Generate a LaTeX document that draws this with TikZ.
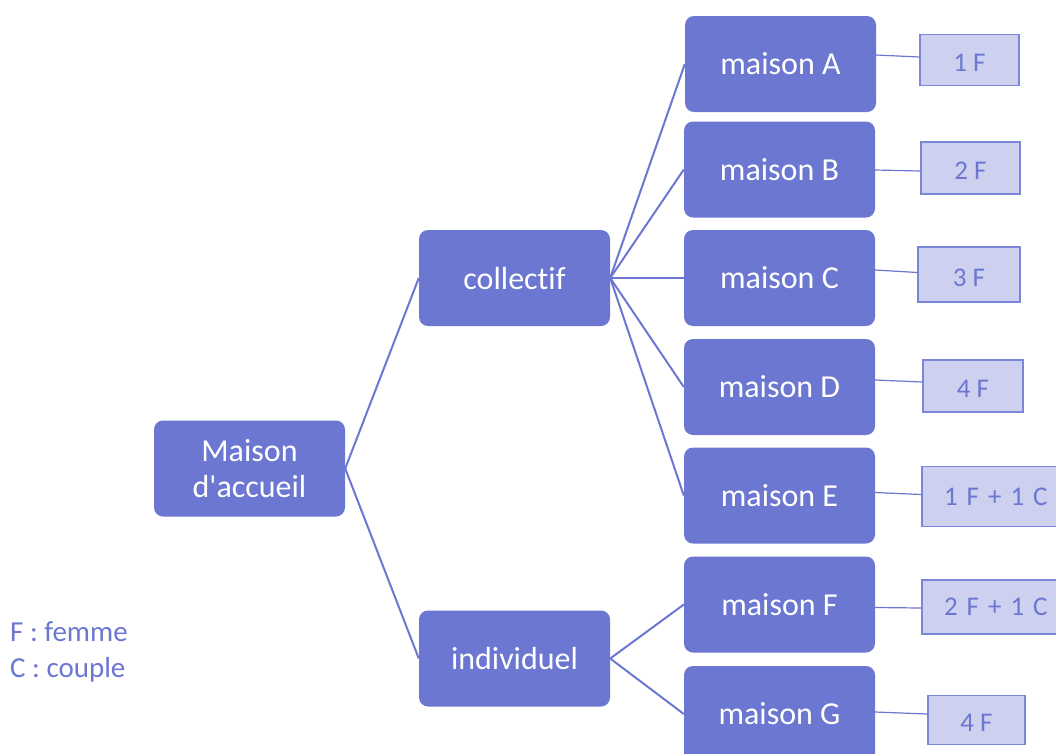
\documentclass[tikz,border=0pt]{standalone}
\usepackage{fontspec}
\setmainfont{Carlito}[Ligatures=NoCommon]
\definecolor{boxblue}{HTML}{6B77D0}
\definecolor{paleblue}{HTML}{CDD1EF}
\definecolor{edgeblue}{HTML}{7C86D8}
\newcommand{\cnt}[1]{\raisebox{-3pt}[\height][0pt]{#1}}
\begin{document}
\begin{tikzpicture}[x=1pt,y=-1pt,
  house/.style={draw=none, fill=boxblue, rounded corners=9pt, minimum width=191pt,
    minimum height=96pt, inner sep=0pt, text=white, align=center,
    font=\fontsize{32}{36}\selectfont},
  count/.style={draw=edgeblue, line width=1.2pt, fill=paleblue, inner sep=0pt,
    text=boxblue, font=\fontsize{27}{30}\selectfont},
  link/.style={draw=boxblue, line width=2pt},
  sidelink/.style={draw=boxblue, line width=1.2pt},
  legend/.style={text=boxblue, anchor=west, inner sep=0pt, font=\fontsize{29}{32}\selectfont}]
\useasboundingbox (0,0) rectangle (1056,753);
\clip (0,0) rectangle (1056,753);

% main hierarchy
\node[house] (root) at (249.5,468.5) {Maison\\d\textquotesingle accueil};
\node[house] (coll) at (514.5,278) {collectif};
\node[house] (indiv) at (514.5,658.5) {individuel};

\node[house] (mA) at (780.5,64) {maison A};
\node[house] (mB) at (779.5,169.5) {maison B};
\node[house] (mC) at (779.5,278) {maison C};
\node[house] (mD) at (779.5,387) {maison D};
\node[house] (mE) at (779.5,495.5) {maison E};
\node[house] (mF) at (779.5,604.5) {maison F};
\node[house] (mG) at (779.5,714) {maison G};

% occupancy boxes
\node[count, minimum width=99pt, minimum height=51pt] (fA) at (969.5,60) {\cnt{1 F}};
\node[count, minimum width=99pt, minimum height=52pt] (fB) at (970.5,168) {\cnt{2 F}};
\node[count, minimum width=102pt, minimum height=55pt] (fC) at (969,274.5) {\cnt{3 F}};
\node[count, minimum width=100pt, minimum height=52pt] (fD) at (973,386) {\cnt{4 F}};
\node[count, minimum width=150pt, minimum height=60pt, text width=134pt, align=left] (fE) at (997,496.5) {\hspace*{14pt}1 F + 1 C};
\node[count, minimum width=150pt, minimum height=54pt, text width=134pt, align=left] (fF) at (997,607) {\hspace*{14pt}2 F + 1 C};
\node[count, minimum width=97pt, minimum height=49pt] (fG) at (976.5,720) {\cnt{4 F}};

% tree links
\draw[link] (root.east) -- (coll.west);
\draw[link] (root.east) -- (indiv.west);
\foreach \m in {mA,mB,mC,mD,mE} \draw[link] (coll.east) -- (\m.west);
\foreach \m in {mF,mG} \draw[link] (indiv.east) -- (\m.west);

% links to occupancy boxes
\draw[sidelink] ([yshift=9pt]mA.east) -- ([yshift=3pt]fA.west);
\draw[sidelink] ([yshift=-0.5pt]mB.east) -- ([yshift=-3pt]fB.west);
\draw[sidelink] ([yshift=8pt]mC.east) -- ([yshift=2pt]fC.west);
\draw[sidelink] ([yshift=7pt]mD.east) -- ([yshift=4pt]fD.west);
\draw[sidelink] ([yshift=3pt]mE.east) -- ([yshift=2pt]fE.west);
\draw[sidelink] ([yshift=-3pt]mF.east) -- ([yshift=-1pt]fF.west);
\draw[sidelink] ([yshift=2pt]mG.east) -- ([yshift=6pt]fG.west);

% legend
\node[legend] (lgF) at (10,632) {F : femme};
\node[legend] (lgC) at (10,670) {C : couple};
\end{tikzpicture}
\end{document}
